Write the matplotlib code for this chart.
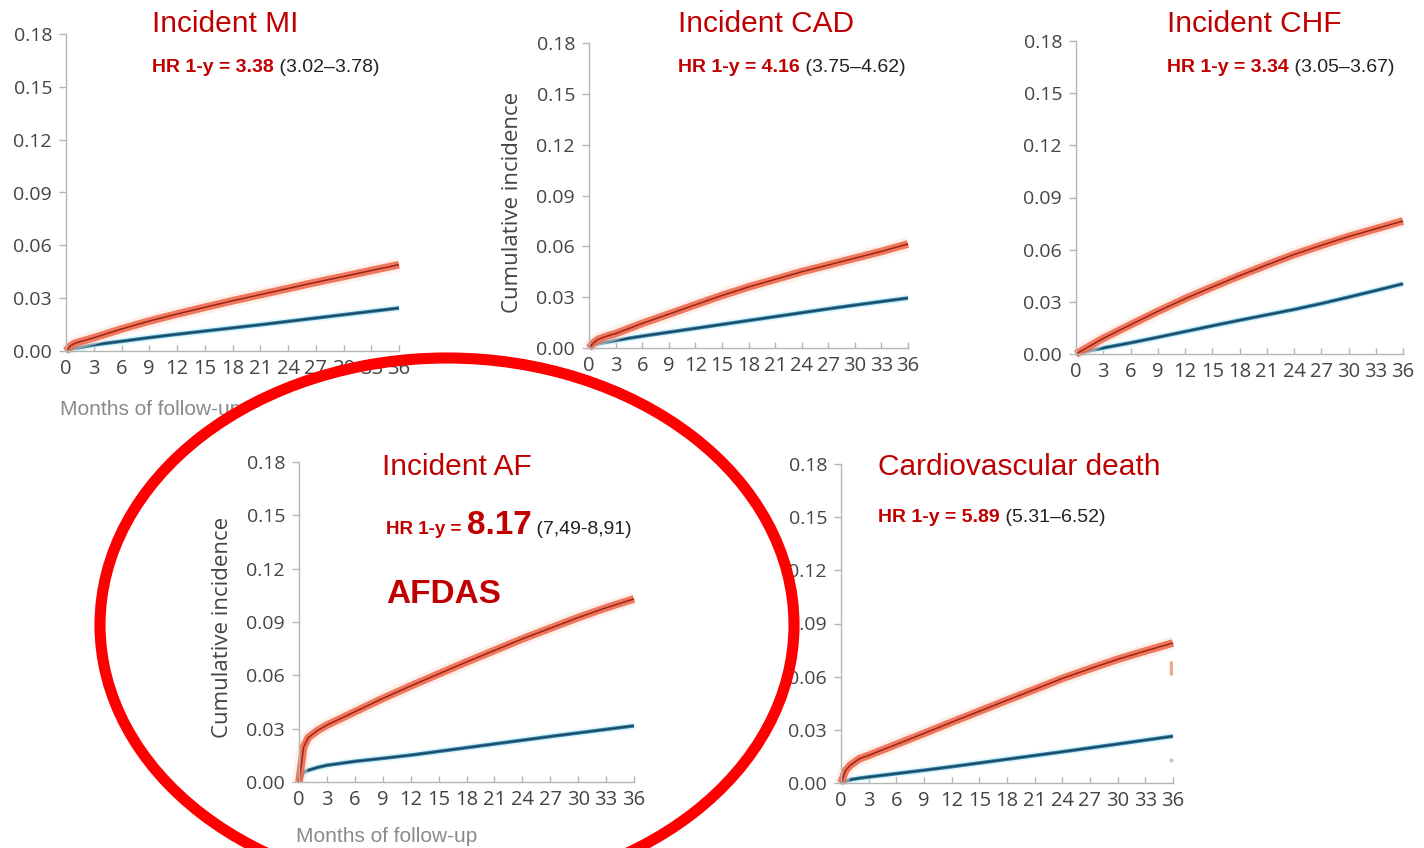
import matplotlib
matplotlib.use("Agg")
import matplotlib.pyplot as plt
from matplotlib.patches import Ellipse

W, H = 1424, 848

# follow-up months where the curves were read
months = [0, 0.5, 1, 2, 3, 6, 9, 12, 15, 18, 21, 24, 27, 30, 33, 36]

# cumulative incidence, red = AFDAS group, blue = comparison group
mi_red = [0, 0.003, 0.0045, 0.006, 0.0075, 0.0125, 0.017, 0.021, 0.0248, 0.0285, 0.032, 0.0355, 0.039, 0.0423, 0.0457, 0.049]
mi_blue = [0, 0.001, 0.0015, 0.0025, 0.0035, 0.0055, 0.0076, 0.0095, 0.0113, 0.0131, 0.0149, 0.0168, 0.0187, 0.0206, 0.0225, 0.0244]

cad_red = [0, 0.003, 0.005, 0.007, 0.0085, 0.0145, 0.020, 0.0255, 0.031, 0.036, 0.0405, 0.045, 0.049, 0.053, 0.057, 0.0614]
cad_blue = [0, 0.0015, 0.0025, 0.0035, 0.0045, 0.007, 0.0093, 0.0116, 0.0139, 0.0162, 0.0185, 0.0208, 0.0231, 0.0253, 0.0274, 0.0295]

chf_red = [0, 0.0015, 0.003, 0.006, 0.009, 0.0168, 0.0245, 0.0318, 0.0385, 0.045, 0.0512, 0.0572, 0.0625, 0.0675, 0.072, 0.0765]
chf_blue = [0, 0.0007, 0.0013, 0.0025, 0.0035, 0.0064, 0.0096, 0.0129, 0.0162, 0.0194, 0.0225, 0.0256, 0.029, 0.0327, 0.0365, 0.0404]

af_red = [0, 0.0197, 0.025, 0.029, 0.032, 0.0395, 0.047, 0.054, 0.0608, 0.0675, 0.074, 0.0805, 0.0865, 0.0925, 0.098, 0.103]
af_blue = [0, 0.0056, 0.0066, 0.0082, 0.0094, 0.0116, 0.0133, 0.0151, 0.0172, 0.0193, 0.0214, 0.0235, 0.0256, 0.0276, 0.0296, 0.0316]

cvd_red = [0, 0.007, 0.010, 0.0137, 0.0156, 0.0218, 0.028, 0.0343, 0.0405, 0.0467, 0.0528, 0.059, 0.0645, 0.0698, 0.0745, 0.079]
cvd_blue = [0, 0.0010, 0.0019, 0.0027, 0.0034, 0.0053, 0.0072, 0.0092, 0.0113, 0.0134, 0.0155, 0.0176, 0.0198, 0.022, 0.0242, 0.0264]
# stray marks near month 36 in the CV death panel
cvd_stray_tick = [0.061, 0.069]
cvd_stray_dot = 0.013

titles = ["Incident MI", "Incident CAD", "Incident CHF", "Incident AF", "Cardiovascular death"]
hr_values = ["3.38", "4.16", "3.34", "8.17", "5.89"]
hr_ci = ["(3.02\u20133.78)", "(3.75\u20134.62)", "(3.05\u20133.67)", "(7,49-8,91)", "(5.31\u20136.52)"]

xticks = list(range(0, 37, 3))
yticks = [0.00, 0.03, 0.06, 0.09, 0.12, 0.15, 0.18]

RED_TXT = "#c00000"
TICK_FONT = "Open Sans"
TXT_FONT = "Liberation Sans"

fig = plt.figure(figsize=(W / 100, H / 100), dpi=100)
renderer = fig.canvas.get_renderer()


def px_axes(x0, y0, x1, y1):
    # axes from pixel box (top-left origin)
    return fig.add_axes([x0 / W, 1 - y1 / H, (x1 - x0) / W, (y1 - y0) / H])


def style(ax):
    ax.set_xlim(0, 36)
    ax.set_ylim(0, 0.18)
    ax.set_xticks(xticks)
    ax.set_yticks(yticks)
    ax.set_yticklabels([f"{v:.2f}" for v in yticks])
    for s in ["top", "right"]:
        ax.spines[s].set_visible(False)
    for s in ["left", "bottom"]:
        ax.spines[s].set_color("#b5b5b5")
        ax.spines[s].set_linewidth(1.0)
    ax.tick_params(axis="y", length=5, width=1, color="#b5b5b5", pad=5,
                   labelsize=14, labelcolor="#444444")
    ax.tick_params(axis="x", direction="in", length=4, width=1, color="#b5b5b5",
                   pad=6, labelsize=14.5, labelcolor="#444444")
    for lab in ax.get_xticklabels() + ax.get_yticklabels():
        lab.set_family(TICK_FONT)
    ax.patch.set_alpha(0)


def curves(ax, red, blue):
    kw = dict(solid_capstyle="butt", solid_joinstyle="round", clip_on=False)
    ax.plot(months, blue, color="#c9f0fa", lw=5, alpha=0.6, **kw)
    ax.plot(months, blue, color="#2f7fa6", lw=2.6, **kw)
    ax.plot(months, blue, color="#1d3f55", lw=1.0, **kw)
    ax.plot(months, red, color="#fde2d8", lw=10, alpha=0.5, **kw)
    ax.plot(months, red, color="#ef6a4c", lw=5.5, alpha=0.9, **kw)
    ax.plot(months, red, color="#9a2418", lw=1.1, **kw)


def rich(x_px, y_px, pieces):
    # pieces placed one after another on a shared baseline
    x = x_px
    for s, size, weight, color in pieces:
        t = fig.text(x / W, 1 - y_px / H, s, fontsize=size, fontweight=weight,
                     color=color, family=TXT_FONT, va="baseline", ha="left")
        x += t.get_window_extent(renderer).width


boxes = [(66, 34, 399, 351), (589, 43, 908, 348), (1076, 41, 1403, 354),
         (299, 462, 634, 782), (841, 464, 1173, 783)]
series = [(mi_red, mi_blue), (cad_red, cad_blue), (chf_red, chf_blue),
          (af_red, af_blue), (cvd_red, cvd_blue)]
title_pos = [(152, 32), (678, 32), (1167, 32), (382, 475), (878, 475)]
hr_pos = [(152, 72), (678, 72), (1167, 72), (386, 534), (878, 522)]

axes = []
for box, (red, blue) in zip(boxes, series):
    ax = px_axes(*box)
    style(ax)
    curves(ax, red, blue)
    axes.append(ax)

axes[4].plot([35.8, 35.8], cvd_stray_tick, color="#f4a58a", lw=2.5, solid_capstyle="butt")
axes[4].plot([35.8], [cvd_stray_dot], "o", color="#c8c8c8", ms=2)

for i, (tx, ty) in enumerate(title_pos):
    fig.text(tx / W, 1 - ty / H, titles[i], fontsize=21.5, color=RED_TXT,
             family=TXT_FONT, va="baseline", ha="left")

for i, (hx, hy) in enumerate(hr_pos):
    if i == 3:
        rich(hx, hy, [("HR 1-y = ", 13.5, "bold", RED_TXT),
                      ("8.17", 24, "bold", RED_TXT),
                      (" " + hr_ci[i], 14, "normal", "#222222")])
    else:
        rich(hx, hy, [("HR 1-y = " + hr_values[i], 14, "bold", RED_TXT),
                      (" " + hr_ci[i], 14, "normal", "#222222")])

fig.text(386 / W, 1 - 603 / H, "AFDAS", fontsize=24, fontweight="bold", color=RED_TXT,
         family=TXT_FONT, va="baseline", ha="left")

# axis titles
for cx, cy in [(513, 202), (222, 627)]:
    fig.text(cx / W, 1 - cy / H, "Cumulative incidence", fontsize=16, color="#444444",
             family=TICK_FONT, rotation=90, va="center", ha="center")
for lx, ly in [(60, 415), (296, 842)]:
    fig.text(lx / W, 1 - ly / H, "Months of follow-up", fontsize=15, color="#8a8a8a",
             family=TXT_FONT, va="baseline", ha="left")

# highlight ring round the AF panel
ring = Ellipse((447 / W, 1 - 625 / H), width=694 / W, height=534 / H,
               transform=fig.transFigure, fill=False, edgecolor="#ff0000",
               lw=8, zorder=20, clip_on=False)
fig.add_artist(ring)

fig.savefig("out.png", dpi=100)
